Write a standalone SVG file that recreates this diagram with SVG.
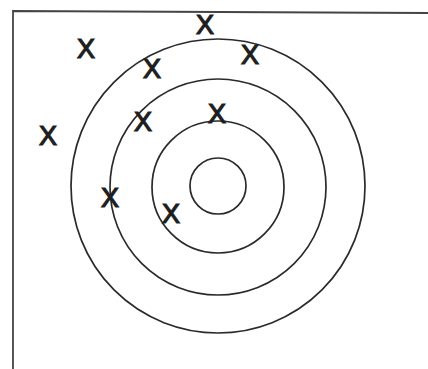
<svg xmlns="http://www.w3.org/2000/svg" width="428" height="369" viewBox="0 0 428 369">
<style>
.ring{fill:none;stroke:#2a2a2a;stroke-width:1.7}
.frame{fill:none;stroke:#444;stroke-width:1.8}
.x{font-family:"Liberation Sans",Arial,sans-serif;font-size:27px;fill:#1e1e1e;stroke:#1e1e1e;stroke-width:1.2;text-anchor:middle}
</style>
<rect width="428" height="369" fill="#ffffff"/>
<g id="frame">
<path class="frame" d="M13,369 L13,11 L428,13"/>
</g>
<g id="target">
<circle class="ring" cx="218" cy="186" r="147"/>
<circle class="ring" cx="218" cy="187" r="108"/>
<circle class="ring" cx="218" cy="187" r="66"/>
<circle class="ring" cx="218" cy="186" r="28"/>
</g>
<g id="marks">
<text class="x" x="205" y="34">X</text>
<text class="x" x="86" y="58">X</text>
<text class="x" x="152" y="78">X</text>
<text class="x" x="250" y="64">X</text>
<text class="x" x="143" y="131">X</text>
<text class="x" x="217" y="123">X</text>
<text class="x" x="48" y="145">X</text>
<text class="x" x="110" y="207">X</text>
<text class="x" x="171" y="223">X</text>
</g>
</svg>
